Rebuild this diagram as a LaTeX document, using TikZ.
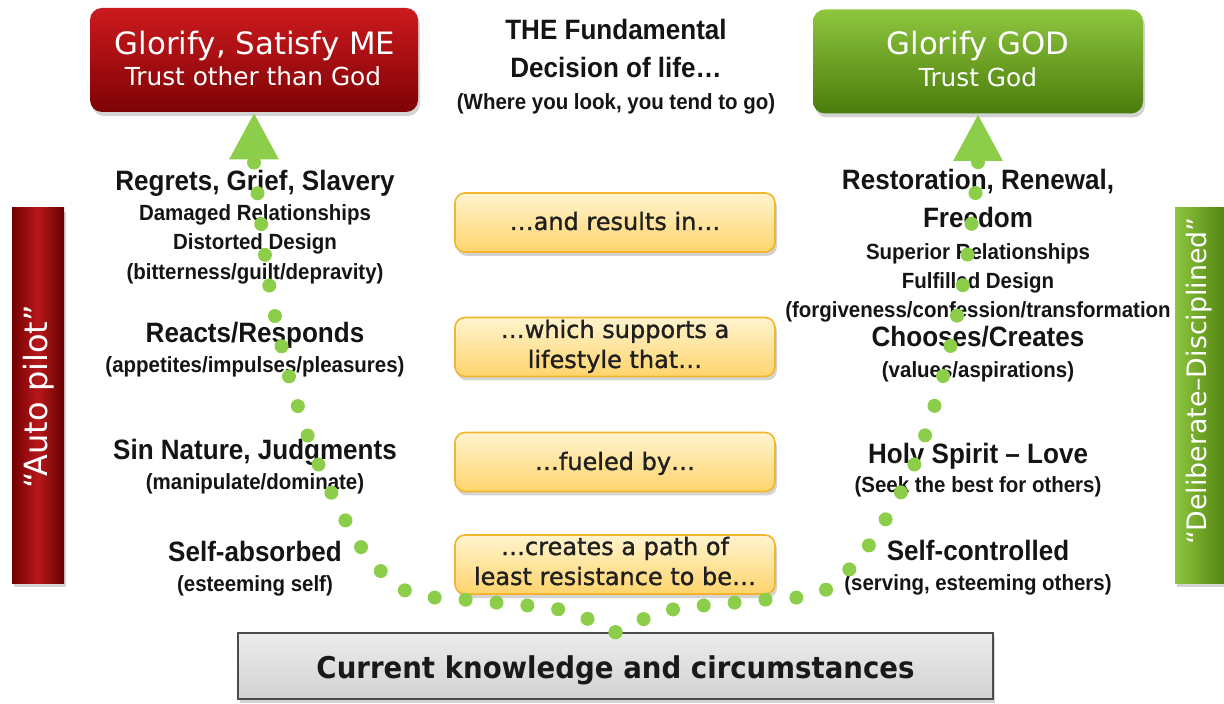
\documentclass[tikz,border=0pt]{standalone}
\usepackage{fontspec}
\setmainfont{Liberation Sans}
\newfontfamily\labelfont[FakeStretch=0.93]{Liberation Sans}
\newfontfamily\boxfont{DejaVu Sans}
\newfontfamily\stepfont[FakeBold=1.2]{DejaVu Sans}
\newfontfamily\basefont[FakeStretch=0.92]{DejaVu Sans}
\usetikzlibrary{positioning, shadows, arrows.meta}

\definecolor{dotgreen}{HTML}{8CCE4A}
\definecolor{redtop}{HTML}{CC1A1E}
\definecolor{redbot}{HTML}{7E0205}
\definecolor{greentop}{HTML}{8EC63F}
\definecolor{greenbot}{HTML}{4A7C0B}
\definecolor{yeltop}{HTML}{FFF4CF}
\definecolor{yelbot}{HTML}{FFD46C}
\definecolor{yelline}{HTML}{F2B52E}
\definecolor{graytop}{HTML}{ECECEC}
\definecolor{graybot}{HTML}{D2D2D2}

\begin{document}
\begin{tikzpicture}[
    x=0.5pt, y=-0.5pt,
    boxshadow/.style={drop shadow={opacity=0.35, shadow xshift=1pt, shadow yshift=-2pt}},
    goal/.style={rectangle, rounded corners=6pt, minimum width=164pt, minimum height=52pt, boxshadow},
    step box/.style={rectangle, draw=yelline, line width=0.8pt, rounded corners=5pt, top color=yeltop, bottom color=yelbot,
                     minimum width=160pt, minimum height=29.5pt, boxshadow},
    bar/.style={rectangle, minimum width=26pt, minimum height=187.5pt, boxshadow},
    boxtxt/.style={font=\stepfont\fontsize{12}{15}\selectfont, text=black!88, anchor=base},
    big/.style={font=\labelfont\bfseries\fontsize{14}{16}\selectfont, text=black!92, anchor=base},
    small/.style={font=\labelfont\bfseries\fontsize{11}{13}\selectfont, text=black!92, anchor=base},
    dotline/.style={dotgreen, line width=7pt, line cap=round, dash pattern=on 0pt off 15.5pt,
                    -{Triangle[width=23pt, length=23.5pt]}}
]
\path[use as bounding box, clip] (0,0) rectangle (1224,704);

% the two goals
\node[goal, top color=redtop, bottom color=redbot] (selfbox) at (254,60) {};
\node[goal, top color=greentop, bottom color=greenbot, minimum width=165pt] (godbox) at (978,61.5) {};
\node[font=\boxfont\fontsize{15.4}{18}\selectfont, text=white, anchor=base] at (255,55) {Glorify, Satisfy ME};
\node[font=\boxfont\fontsize{12.4}{15}\selectfont, text=white, anchor=base] at (253,86) {Trust other than God};
\node[font=\boxfont\fontsize{15.4}{18}\selectfont, text=white, anchor=base] at (978,55) {Glorify GOD};
\node[font=\boxfont\fontsize{12.4}{15}\selectfont, text=white, anchor=base] at (978,87) {Trust God};

% heading
\node[big] (title1) at (616,40) {THE Fundamental};
\node[big] (title2) at (616,78) {Decision of life…};
\node[small] (lookgo) at (616,110) {(Where you look, you tend to go)};

% side bars
\node[bar, left color=red!45!black, right color=red!40!black, middle color=redtop!90!black] (autobar) at (38,395.5) {};
\node[bar, left color=greentop, right color=greenbot, minimum width=28pt] (discbar) at (1203,395.5) {};
\node[font=\boxfont\fontsize{16}{18}\selectfont, text=white, rotate=90] at (39,397) {“Auto pilot”};
\node[font=\boxfont\fontsize{13.4}{16}\selectfont, text=white, rotate=90] at (1199,381) {“Deliberate–Disciplined”};

% the middle steps
\node[step box] (results)  at (615,222.5) {};
\node[step box] (supports) at (615,347) {};
\node[step box] (fueled)   at (615,462) {};
\node[step box] (creates)  at (615,564.5) {};
\node[boxtxt] at (615,230) {…and results in…};
\node[boxtxt] at (615,338) {…which supports a};
\node[boxtxt] at (615,368) {lifestyle that…};
\node[boxtxt] at (615,470) {…fueled by…};
\node[boxtxt] at (615,555) {…creates a path of};
\node[boxtxt] at (615,585) {least resistance to be…};

% where it starts
\node[rectangle, draw=black!70, line width=0.8pt, top color=graytop, bottom color=graybot,
      minimum width=377.5pt, minimum height=33pt, boxshadow] (base) at (615.5,666) {};
\node[font=\basefont\bfseries\fontsize{15}{18}\selectfont, text=black!90, anchor=base] at (615.5,678)
    {Current knowledge and circumstances};

% left column
\node[big]   (regrets)    at (255,191) {Regrets, Grief, Slavery};
\node[small] (damaged)    at (255,221) {Damaged Relationships};
\node[small] (distorted)  at (255,250) {Distorted Design};
\node[small] (bitter)     at (255,280) {(bitterness/guilt/depravity)};
\node[big]   (reacts)     at (255,343) {Reacts/Responds};
\node[small] (appetites)  at (255,373) {(appetites/impulses/pleasures)};
\node[big]   (sinnature)  at (255,460) {Sin Nature, Judgments};
\node[small] (manip)      at (255,490) {(manipulate/dominate)};
\node[big]   (selfabs)    at (255,561) {Self-absorbed};
\node[small] (esteemself) at (255,591) {(esteeming self)};

% right column
\node[big]   (restore)   at (978,190) {Restoration, Renewal,};
\node[big]   (freedom)   at (978,228) {Freedom};
\node[small] (superior)  at (978,260) {Superior Relationships};
\node[small] (fulfilled) at (978,289) {Fulfilled Design};
\node[small] (forgive)   at (978,318) {(forgiveness/confession/transformation};
\node[big]   (chooses)   at (978,347) {Chooses/Creates};
\node[small] (values)    at (978,378) {(values/aspirations)};
\node[big]   (holy)      at (978,464) {Holy Spirit – Love};
\node[small] (seek)      at (978,493) {(Seek the best for others)};
\node[big]   (selfctl)   at (978,560) {Self-controlled};
\node[small] (serving)   at (978,590) {(serving, esteeming others)};

% the two paths up
\draw[dotline] plot[smooth] coordinates {(base.north) (562,610) (468,600) (408,592) (363,550)
    (320,468) (290,380) (270,290) (258,197) (254,165)} -- (selfbox.south);
\draw[dotline] plot[smooth] coordinates {(base.north) (670,610) (762,600) (822,592) (867,548)
    (912,470) (942,380) (962,290) (975,197) (978,165)} -- (godbox.south);

\end{tikzpicture}
\end{document}
